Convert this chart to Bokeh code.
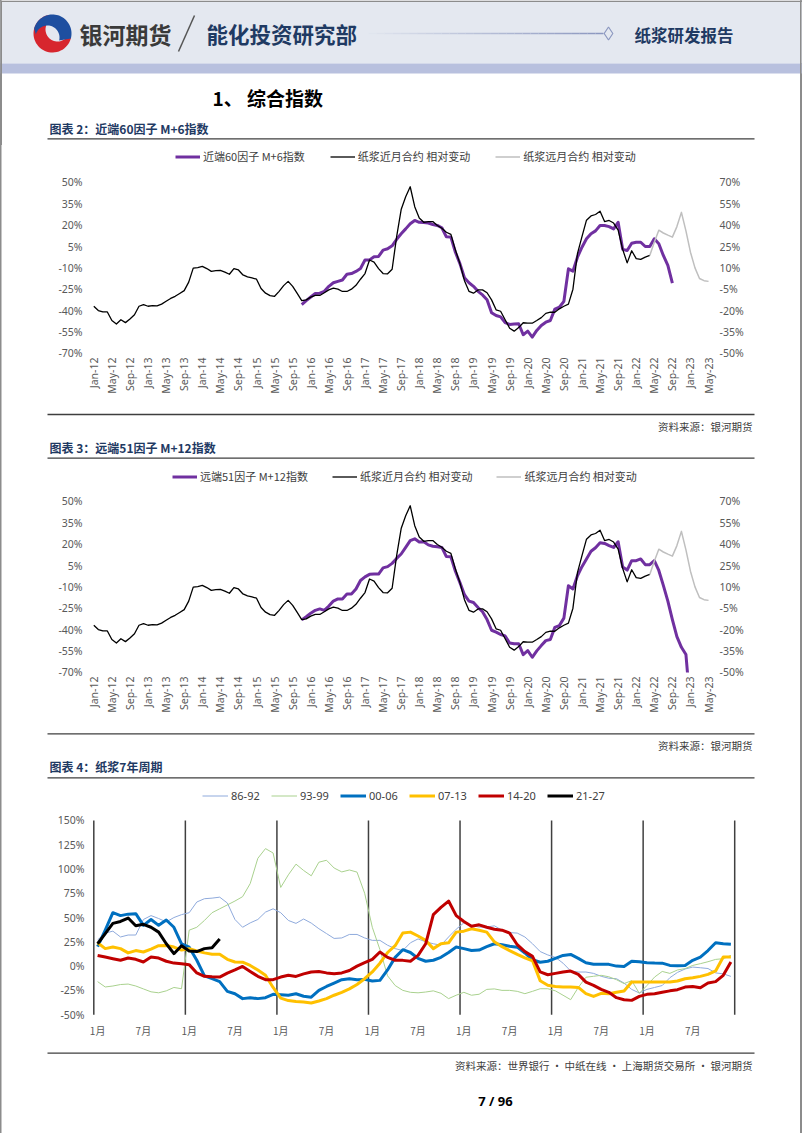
import numpy as np
from bokeh.plotting import figure
from bokeh.layouts import column, row
from bokeh.models import Range1d, LinearAxis, FixedTicker, PrintfTickFormatter, Legend, LegendItem
from bokeh.core.properties import value
from bokeh.embed import file_html
from bokeh.resources import INLINE

CJK = "Noto Sans CJK SC"
LAT = "Noto Sans"
NAVY = "#1F3A63"
TICK = "#595959"
EDGE = "#8C8C8C"
W = 802

# ---------------- index charts data (month index 0 = Jan-12) ----------------
date_ticks = [f"{mon}-{yy:02d}" for yy in range(12, 24) for mon in ("Jan", "May", "Sep")][:35]

near_month = [
    -37, -40, -41, -41, -47, -49.5, -46.5, -48.5, -46, -43, -37, -35.8,
    -37, -36.5, -36.7, -35.5, -33.5, -31.5, -30, -28, -26, -20, -10.2, -9.8,
    -9, -10.5, -12.5, -12, -11.8, -13, -14.5, -10.5, -11.5, -15, -16.3, -17,
    -18, -24.5, -27.8, -29.5, -30, -26.5, -22.5, -19.5, -23, -28, -33, -32.5,
    -30.6, -29.3, -29.4, -27.5, -25.5, -24.3, -25, -26.6, -26.6, -25, -22.3, -18,
    -14, -4.5, -6, -10.5, -14, -14.2, -11, 12, 31, 40, 47, 33,
    25, 22, 22.5, 22.5, 19.8, 17.8, 15, 13.5, 2.5, -7, -19, -26.5,
    -27.8, -25.5, -25.5, -27.5, -32.5, -39.5, -40.5, -46.5, -52.5, -54.5, -52, -48.6,
    -48.8, -48.9, -47, -45, -42, -41.2, -41.2, -38.8, -37, -35.5, -25, 0,
    12, 23.5, 26.5, 27.5, 29.8, 22.5, 23.3, 21.5, 16.5, 3, -6.5, 2,
    -3.5, -4, -2.5, -1.3,
]
far_month_start = 123
far_month = [-1.3, 8, 16.5, 14.5, 13, 11.6, 19, 29, 16, 1, -10, -17.5, -19, -19.5]

m6_start = 46
m6_index = [
    -35.8, -33, -30.5, -28, -27.8, -26.5, -23, -20.5, -19.5, -18.5, -14.5, -14, -12.5, -10.5,
    -4.5, -4.4, -2.2, -2, 2.5, 3.4, 5.5, 10, 14, 17.4, 21, 23.3,
    22, 21.8, 21.5, 20.5, 19.8, 18.2, 11.8, 11.6, 1, -7, -17, -20.5,
    -23, -26.5, -29, -32.5, -41.5, -43.5, -44.5, -48.5, -49.8, -49.5, -49.3, -57,
    -54.5, -58.7, -54, -50.5, -48.2, -47, -39, -37.7, -33.5, -10.7, -12.3, -2.5,
    4.5, 10.4, 14, 16, 19.8, 19.8, 19, 17.4, 22, 3, 2.2, 7.3,
    8, 8, 5, 5, 10.4, 7, -1.3, -8.3, -20.8,
]
m12_start = 46
m12_index = [
    -33.2, -31, -28.5, -26.5, -25.5, -26.5, -23.5, -20, -18.5, -18.5, -15, -15, -11.5, -5.5,
    -3, -1.2, -1, -1, 3.3, 4.2, 6.5, 10, 13.1, 17.7, 22.5, 23.8,
    21.5, 21.7, 19.5, 18.5, 18.2, 17.7, 11.3, 11.2, 1, -7, -15.5, -20,
    -21, -24.5, -27.5, -33, -40.5, -41.8, -43.5, -44.5, -49.5, -50, -50, -57.6,
    -54.8, -59.5, -55, -51.3, -47.8, -47, -38.5, -37.2, -32, -9.2, -11.5, -2.2,
    4.2, 9.6, 15, 17.5, 21, 20.5, 19, 17.7, 21.7, 4, 1.8, 8.4,
    8.4, 9.6, 5.6, 5.6, 8.4, 1.5, -9, -20, -33, -45, -52.5, -57.6, -95,
]
left_ticks = [-70, -55, -40, -25, -10, 5, 20, 35, 50]
right_ticks = [-50, -35, -20, -5, 10, 25, 40, 55, 70]

# ---------------- 7-year cycle data (month 0 = Jan of year 1) ----------------
cycle_names = ["86-92", "93-99", "00-06", "07-13", "14-20", "21-27"]
c86_92 = [
    27, 34, 36, 30, 32, 32, 48, 52, 49, 45.5, 50, 53,
    55, 66, 69.4, 70, 71, 65, 48, 40, 44.5, 48, 55.6, 59,
    55, 47, 44, 48.5, 44.3, 38.5, 33.5, 28.5, 29, 32.6, 32.6, 29,
    26.5, 26.5, 21.5, 18, 16, 24, 28, 25, 23, 21.5, 30, 38,
    44.5, 42, 40.2, 40.2, 41.5, 37, 34.5, 34, 30, 23, 15, 11.5,
    9, 3, -5, -6.1, -6.1, -7.5, -10.5, -12.5, -13, -17.5, -24, -27.7,
    -24, -22, -20, -12, -6.5, -3, -1, -1.7, -2.5, -7, -8, -10.6,
]
c93_99 = [
    -16, -21.5, -20.5, -19, -18.5, -20.5, -23.5, -26.5, -27.5, -25.5, -22, -23.3,
    37, 40, 47, 55, 59, 63, 67, 71.5, 85, 111, 121, 116.5,
    81, 94, 105, 98.5, 93, 107, 109, 101, 97, 99, 96.8, 75,
    40, 17, -10, -20, -25, -27, -27.5, -26.7, -25.5, -28, -33.5, -30,
    -27, -30, -29, -24, -23.5, -25, -25, -26, -28.4, -26, -23.3, -23.3,
    -25.5, -30, -34.6, -22, -11.5, -10.5, -9.5, -11, -14, -18, -15, -28,
    -20, -11.3, -5.5, -7.5, -4, -2.6, 0.7, 2.5, 4.5, 6.9, 7.6, 11,
]
c00_06 = [
    20, 37, 55, 52, 53.5, 54, 42, 48, 42, 47.5, 40, 23,
    19.5, 6, -10, -13, -16, -26, -28.5, -33.5, -32.5, -33.5, -32.5, -29,
    -29.5, -30, -28.5, -31, -32, -25, -21, -17.5, -14, -13, -14, -13.7,
    -15.4, -14.7, -4, 9, 16.9, 14, 8, 5, 6, 9, 14, 19.6,
    18, 16, 16.5, 20, 23, 22, 20.5, 19.5, 13.5, 6.5, 4, 5,
    8, 11, 12, 8, 3.5, 2, 1.8, 1.8, 0, -0.3, 5, 4.5,
    3.5, 3.1, 3, 0.7, 0.4, 0.7, 5.9, 9.3, 16, 24, 23, 22.5,
]
c07_13 = [
    24, 18, 19.6, 18, 13.6, 16, 14.5, 17.5, 21, 21.3, 19.6, 16.5,
    17.9, 15.5, 13.6, 12.3, 12.3, 7, 4.2, 4, 0.7, -4, -9.5, -22,
    -33, -35.5, -36.5, -37, -38, -36, -33.5, -30, -27, -23.5, -19, -13,
    -6, 3, 14, 21, 34, 35, 31, 26.5, 18, 23, 24, 35,
    36, 38.5, 37, 35, 25, 20, 16, 12, 8.5, 5.5, -15, -19.8,
    -21, -21.6, -21.6, -22, -28.4, -31.2, -28, -28.4, -27, -25.7, -16.4, -16.4,
    -16.4, -16.4, -16.4, -16.4, -15.4, -13, -12, -10.6, -8.5, -5, 9.3, 9.3,
]
c14_20 = [
    11, 9.3, 7.6, 6, 8.3, 7, 4.2, 9.3, 8.3, 5, 3.1, 2.5,
    1.5, -7, -10.5, -11, -11.3, -7.2, -4, -0.3, -5.5, -10.5, -14, -14,
    -11.3, -9.5, -10.6, -8, -6.1, -5.5, -7, -7.8, -7, -4.5, 0, 3.5,
    7, 14.5, 9, 6, 5.9, 5, 11, 23, 53, 60.5, 67, 52,
    46, 41, 42.5, 40, 38, 37, 34, 22, 15, 10, -6, -8.9,
    -7.5, -6, -5.1, -8.5, -16.5, -19.8, -24, -27, -32.5, -34.6, -35.3, -31.2,
    -29.1, -28.4, -27, -25.5, -24.3, -21.6, -21, -22.3, -17.4, -16, -9.5, 4.2,
]
c21_27 = [23, 33.5, 44, 46, 49.5, 41.5, 43, 40, 35, 23, 12.8, 21, 15.5, 15, 18, 19, 28]
cycle_series = [c86_92, c93_99, c00_06, c07_13, c14_20, c21_27]
cycle_colors = ["#8FAADC", "#A9D18E", "#0070C0", "#FFC000", "#C00000", "#000000"]
cycle_widths = [1, 1, 3, 3, 3, 3]
month_tick_labels = ["1月", "7月"] * 7
year_marks = [0, 12, 24, 36, 48, 60, 72, 84]
pct_ticks3 = [-50, -25, 0, 25, 50, 75, 100, 125, 150]


# ---------------- helpers ----------------
def clear_fills(p):
    p.background_fill_alpha = 0
    p.border_fill_alpha = 0


def deco(y0, y1):
    p = figure(width=W, height=int(y1 - y0), x_range=Range1d(0, W), y_range=Range1d(y1, y0),
               output_backend="svg", toolbar_location=None, min_border=0,
               x_axis_type=None, y_axis_type=None, outline_line_color=None, align="start")
    clear_fills(p)
    return p


def txt(p, x, y, s, size, color, bold=False, align="left", font=CJK):
    p.text(x=[x], y=[y], text=[s], text_font=value(font), text_font_size=f"{size}px",
           text_font_style="bold" if bold else "normal", text_color=color,
           text_align=align, text_baseline="middle")


def rule(p, y, color="#3F3F3F", w=1.3):
    p.segment(x0=[47], y0=[y], x1=[754], y1=[y], line_color=color, line_width=w)


def style_axis(ax, standoff, font=LAT, size="10.5px"):
    ax.axis_line_color = None
    ax.major_tick_line_color = None
    ax.minor_tick_line_color = None
    ax.major_tick_out = 0
    ax.major_tick_in = 0
    ax.major_label_standoff = standoff
    ax.major_label_text_font = font
    ax.major_label_text_font_size = size
    ax.major_label_text_color = TICK


def index_chart(idx_start, idx_vals, idx_label, legend_x, legend_y, spacing):
    p = figure(width=W, height=263, x_range=Range1d(-0.95, 137.54), y_range=Range1d(-70.2, 76),
               min_border_left=89, min_border_right=87, min_border_top=0, min_border_bottom=55,
               output_backend="svg", toolbar_location=None, outline_line_color=None, align="start")
    clear_fills(p)
    p.xgrid.visible = False
    p.ygrid.visible = False
    p.extra_y_ranges = {"right": Range1d(-50.2, 96)}

    p.yaxis.ticker = FixedTicker(ticks=left_ticks)
    p.yaxis.formatter = PrintfTickFormatter(format="%d%%")
    style_axis(p.yaxis[0], 7)
    rax = LinearAxis(y_range_name="right", ticker=FixedTicker(ticks=right_ticks),
                     formatter=PrintfTickFormatter(format="%d%%"))
    style_axis(rax, 4)
    p.add_layout(rax, "right")

    p.xaxis.ticker = FixedTicker(ticks=list(range(0, 4 * len(date_ticks), 4)))
    p.xaxis.major_label_overrides = {4 * k: lab for k, lab in enumerate(date_ticks)}
    p.xaxis.major_label_orientation = np.pi / 2
    style_axis(p.xaxis[0], 4)

    r_idx = p.line(list(range(idx_start, idx_start + len(idx_vals))), idx_vals,
                   line_color="#7030A0", line_width=3, line_join="round")
    r_near = p.line(list(range(len(near_month))), near_month,
                    line_color="#000000", line_width=1.3, line_join="round")
    r_far = p.line(list(range(far_month_start, far_month_start + len(far_month))), far_month,
                   line_color="#BFBFBF", line_width=1.5, line_join="round")

    leg = Legend(items=[LegendItem(label=idx_label, renderers=[r_idx]),
                        LegendItem(label="纸浆近月合约 相对变动", renderers=[r_near]),
                        LegendItem(label="纸浆远月合约 相对变动", renderers=[r_far])],
                 orientation="horizontal", location=(legend_x, legend_y),
                 glyph_width=25, glyph_height=13, label_height=13, label_standoff=3,
                 spacing=spacing, padding=0, margin=0,
                 border_line_alpha=0, background_fill_alpha=0,
                 label_text_font=CJK, label_text_font_size="11px", label_text_color="#404040")
    p.add_layout(leg)
    return p


# ---------------- header ----------------
head = deco(0, 145)
head.quad(left=[0], right=[W], top=[0], bottom=[63], fill_color="#E4E8F0", line_color=None)
head.quad(left=[0], right=[W], top=[63], bottom=[73], fill_color="#B8C0DE", line_color=None)
head.segment(x0=[0, 0.75, 800.25], y0=[0.75, 0, 0], x1=[W, 0.75, 800.25], y1=[0.75, 145, 145],
             line_color=EDGE, line_width=1.5)

t = np.radians(np.linspace(15, 255, 40))
t2 = t[::-1]
red_x = np.concatenate([52 + 19 * np.cos(t), 57 + 12 * np.cos(t2)])
red_y = np.concatenate([33 + 19 * np.sin(t), 29 + 12 * np.sin(t2)])
u = np.radians(np.linspace(195, 375, 40))
u2 = u[::-1]
blue_x = np.concatenate([52 + 19 * np.cos(u), 47 + 12 * np.cos(u2)])
blue_y = np.concatenate([33 + 19 * np.sin(u), 37 + 12 * np.sin(u2)])
head.patch(red_x, red_y, fill_color="#D7262E", line_color=None)
head.patch(blue_x, blue_y, fill_color="#1E4FA0", line_color=None)

txt(head, 79, 33, "银河期货", 23, "#3A3A3A", bold=True)
head.segment(x0=[178], y0=[51], x1=[194], y1=[15], line_color="#555555", line_width=1.5)
txt(head, 206, 33, "能化投资研究部", 21.5, NAVY, bold=True)
gx = np.linspace(360, 603, 31)
gcols = []
for k in range(30):
    f = k / 29
    c0 = np.array([0xE4, 0xE8, 0xF0])
    c1_ = np.array([0x8C, 0x98, 0xC0])
    c = (c0 + (c1_ - c0) * f).astype(int)
    gcols.append("#%02x%02x%02x" % tuple(c))
head.segment(x0=gx[:-1], y0=[33] * 30, x1=gx[1:], y1=[33] * 30, line_color=gcols, line_width=1.3)
head.scatter(x=[608], y=[33], marker="diamond", size=13, fill_color="#E4E8F0",
             line_color="#8C98C0", line_width=1.2)
txt(head, 634, 34, "纸浆研发报告", 16.5, NAVY, bold=True)

txt(head, 212, 97, "1、 综合指数", 19, "#000000", bold=True)
txt(head, 49, 127.5, "图表 2：近端60因子  M+6指数", 12, NAVY, bold=True)
rule(head, 138.3)

# ---------------- index chart M+6 ----------------
c1 = index_chart(m6_start, m6_index, "近端60因子 M+6指数", 86, 189, 25)

mid1 = deco(408, 464)
rule(mid1, 414)
txt(mid1, 752, 426, "资料来源：银河期货", 10.5, "#404040", align="right")
txt(mid1, 49, 446.7, "图表 3：远端51因子  M+12指数", 12, NAVY, bold=True)
rule(mid1, 457.7)

# ---------------- index chart M+12 ----------------
c2 = index_chart(m12_start, m12_index, "远端51因子 M+12指数", 83, 188, 24)

mid2 = deco(727, 785)
rule(mid2, 733.3)
txt(mid2, 752, 744.5, "资料来源：银河期货", 10.5, "#404040", align="right")
txt(mid2, 49, 766, "图表 4：纸浆7年周期", 12, NAVY, bold=True)
rule(mid2, 777.3)

# ---------------- 7-year cycle chart ----------------
c3 = figure(width=W, height=255, x_range=Range1d(-0.695, 84.76), y_range=Range1d(-55, 186),
            min_border_left=88, min_border_right=62, min_border_top=0, min_border_bottom=21,
            output_backend="svg", toolbar_location=None, outline_line_color=None, align="start")
clear_fills(c3)
c3.xgrid.visible = False
c3.ygrid.visible = False
c3.yaxis.ticker = FixedTicker(ticks=pct_ticks3)
c3.yaxis.formatter = PrintfTickFormatter(format="%d%%")
style_axis(c3.yaxis[0], 4)
tick_pos = [6 * k + 0.5 for k in range(len(month_tick_labels))]
c3.xaxis.ticker = FixedTicker(ticks=tick_pos)
c3.xaxis.major_label_overrides = {tp: lab for tp, lab in zip(tick_pos, month_tick_labels)}
style_axis(c3.xaxis[0], 3, font=CJK, size="10px")

c3.segment(x0=year_marks, y0=[pct_ticks3[0]] * len(year_marks), x1=year_marks,
           y1=[pct_ticks3[-1]] * len(year_marks), line_color="#404040", line_width=1.5)
items = []
for name, ser, col, w in zip(cycle_names, cycle_series, cycle_colors, cycle_widths):
    xs = [i + 0.5 for i in range(len(ser))]
    r = c3.line(xs, ser, line_color=col, line_width=w, line_join="round")
    items.append(LegendItem(label=name, renderers=[r]))
leg3 = Legend(items=items, orientation="horizontal", location=(114, 216),
              glyph_width=26, glyph_height=13, label_height=13, label_standoff=3,
              label_width=30, spacing=10, padding=0, margin=0,
              border_line_alpha=0, background_fill_alpha=0,
              label_text_font=LAT, label_text_font_size="11px", label_text_color="#404040")
c3.add_layout(leg3)

# ---------------- footer ----------------
foot = deco(1040, 1133)
rule(foot, 1052.7)
txt(foot, 752, 1065, "资料来源：世界银行 · 中纸在线 · 上海期货交易所 · 银河期货", 10.5, "#404040", align="right")
txt(foot, 495, 1100, "7 / 96", 13, "#000000", bold=True, align="center", font=LAT)

page = column(row(head), row(c1), row(mid1), row(c2), row(mid2), row(c3), row(foot), spacing=0,
              styles={"background-color": "white",
                      "box-shadow": f"inset 1.5px 0 0 {EDGE}, inset -2px 0 0 {EDGE}"})
open("out.html", "w").write(file_html(page, INLINE))
